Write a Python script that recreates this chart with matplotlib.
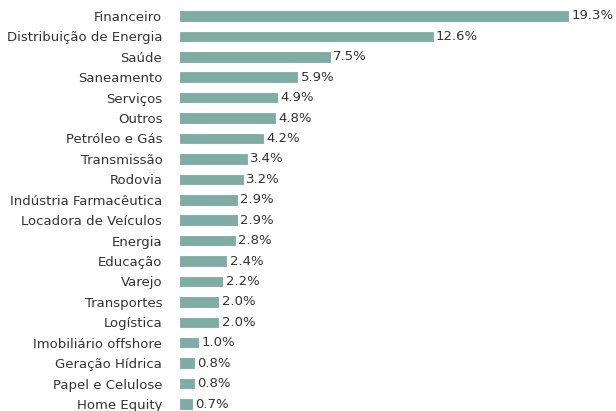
import matplotlib.pyplot as plt

setores = ["Financeiro", "Distribuição de Energia", "Saúde", "Saneamento", "Serviços",
           "Outros", "Petróleo e Gás", "Transmissão", "Rodovia", "Indústria Farmacêutica",
           "Locadora de Veículos", "Energia", "Educação", "Varejo", "Transportes",
           "Logística", "Imobiliário offshore", "Geração Hídrica", "Papel e Celulose",
           "Home Equity"]
pesos = [19.3, 12.6, 7.5, 5.9, 4.9, 4.8, 4.2, 3.4, 3.2, 2.9, 2.9, 2.8, 2.4, 2.2,
         2.0, 2.0, 1.0, 0.8, 0.8, 0.7]

cor = "#7fada5"
texto = "#333333"

fig = plt.figure(figsize=(6.16, 4.11), dpi=100)
ax = fig.add_axes([179 / 616, 0, 410 / 616, 1])

y = list(range(len(setores)))
bars = ax.barh(y, pesos, height=0.56, color=cor, edgecolor="white", linewidth=0.8)

for b, v in zip(bars, pesos):
    ax.text(b.get_width() + 0.12, b.get_y() + b.get_height() / 2, f"{v:.1f}%",
            va="center", ha="left", fontsize=9.5, color=texto)

ax.set_yticks(y)
ax.set_yticklabels(setores, fontsize=9.5, color=texto)
ax.tick_params(axis="y", length=0, pad=12)
ax.set_xticks([])
ax.set_xlim(0, 410 * 19.3 / 390)
ax.set_ylim(19.34, -0.78)
for s in ax.spines.values():
    s.set_visible(False)

fig.savefig("out.png", dpi=100)
